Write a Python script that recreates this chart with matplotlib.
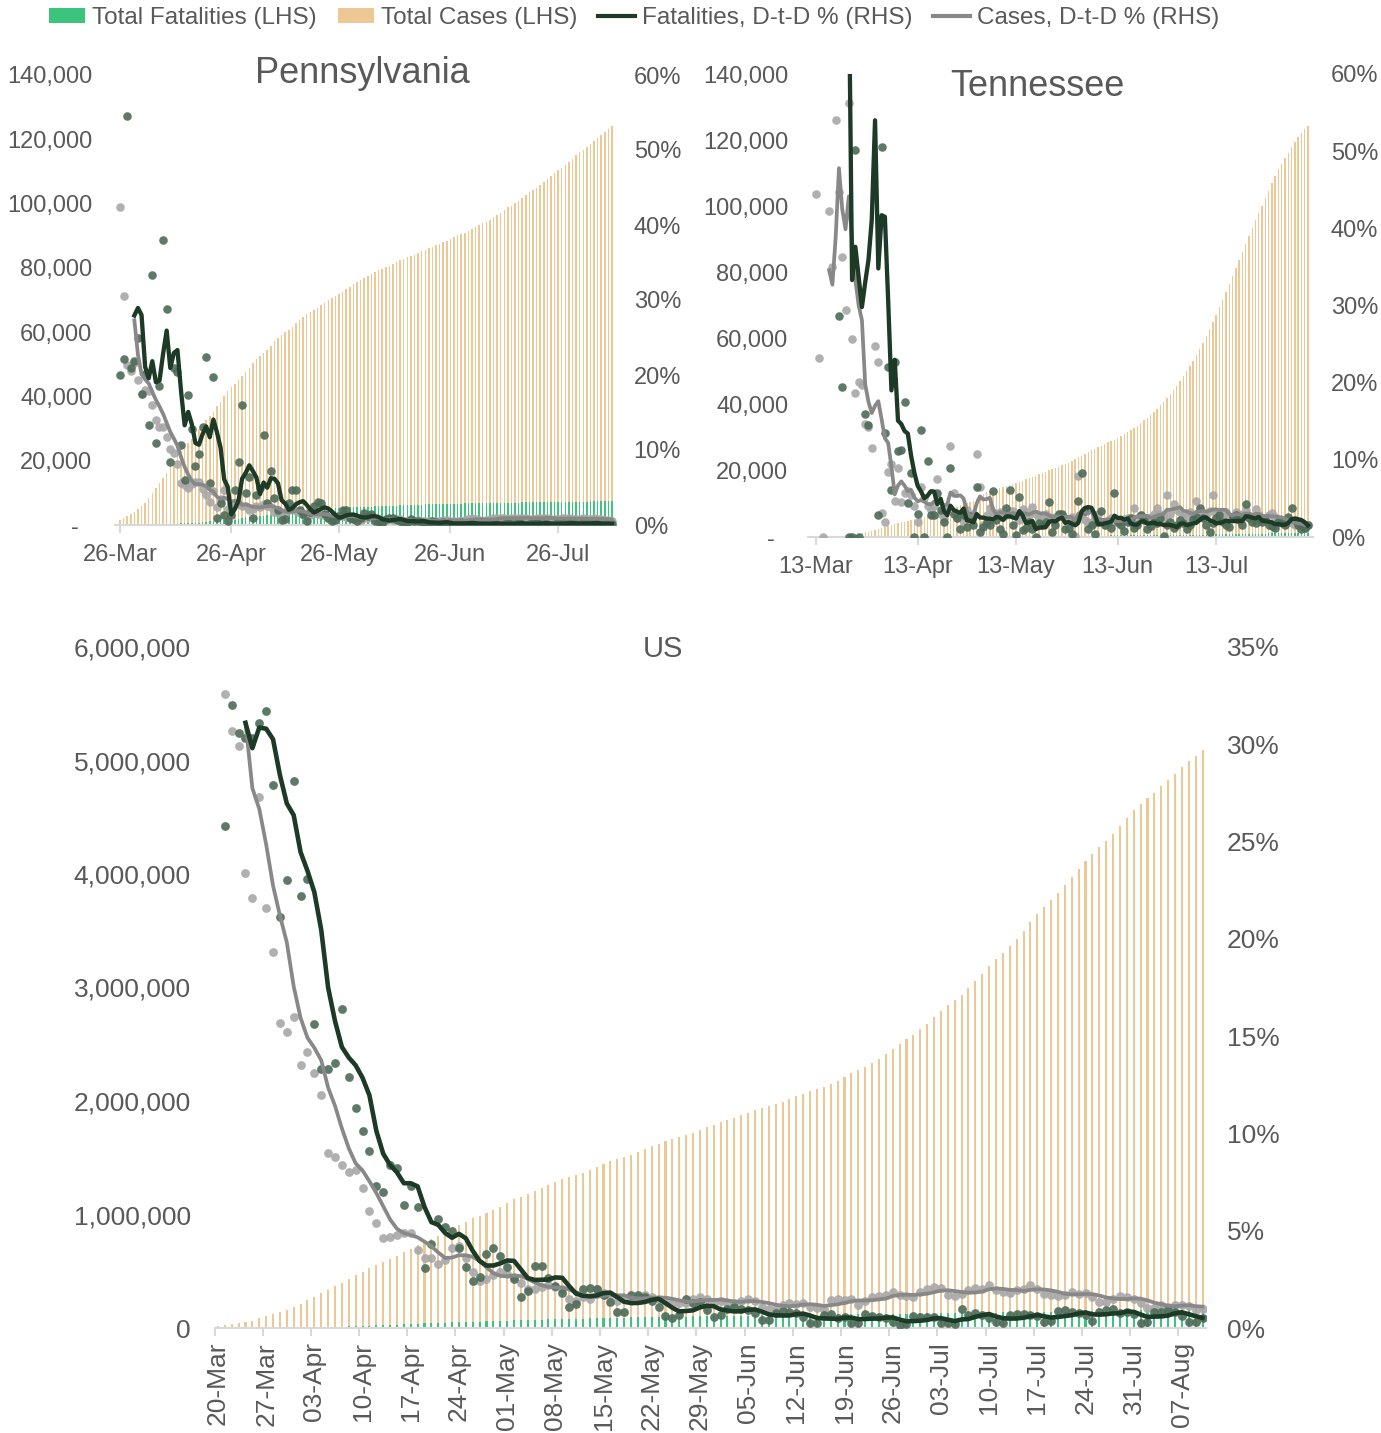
import numpy as np
import pandas as pd
import matplotlib
matplotlib.use("Agg")
import matplotlib.pyplot as plt
from matplotlib.patches import Patch
from matplotlib.lines import Line2D
from matplotlib.ticker import FuncFormatter, FixedLocator, MultipleLocator

plt.rcParams['font.family'] = ['Liberation Sans', 'DejaVu Sans']

# ---------------- US (20-Mar .. 10-Aug) ----------------
us_start = '2020-03-20'
us_cases_k = [19.1, 25.5, 33.3, 43.8, 53.7, 65.8, 83.8, 101.7, 121.5, 140.9, 161.8, 188.2,
              213.4, 243.6, 275.4, 308.8, 337.0, 366.7, 396.2, 429.1, 462.8, 496.5,
              526.4, 555.3, 580.6, 607.6, 636.4, 667.8, 699.7, 732.2, 759.1, 784.3,
              811.9, 840.4, 869.2, 905.4, 938.1, 965.8, 988.5, 1012.6, 1039.9, 1069.4,
              1103.5, 1132.5, 1158.3, 1180.6, 1204.4, 1229.3, 1257.0, 1283.9, 1309.5, 1329.3,
              1347.9, 1369.4, 1390.4, 1417.8, 1442.8, 1467.8, 1486.8, 1508.3, 1528.6, 1551.8,
              1577.1, 1600.9, 1622.6, 1643.2, 1662.3, 1681.2, 1699.9, 1721.8, 1747.1, 1770.2,
              1790.2,
              1811.3, 1831.8, 1851.5, 1872.7, 1897.4, 1920.0, 1938.8, 1956.4, 1974.1, 1995.0,
              2018, 2042, 2066, 2085, 2104, 2127, 2152, 2179, 2210, 2243,
              2269, 2300, 2336, 2374, 2414, 2459, 2501, 2542, 2582, 2630,
              2682, 2739, 2796, 2842, 2888, 2938, 2996, 3058, 3118, 3186,
              3247, 3307, 3366, 3431, 3499, 3576, 3647, 3711, 3773, 3834,
              3899, 3971, 4040, 4113, 4179, 4234, 4290, 4353, 4425, 4495, 4563,
              4621, 4667, 4714, 4771, 4824, 4883, 4941, 4998, 5044, 5094]
us_deaths_k = [0.24, 0.31, 0.42, 0.55, 0.71, 0.94, 1.21, 1.58, 2.03, 2.47, 2.98, 3.87,
               4.76, 5.93, 7.09, 8.41, 9.62, 10.94, 12.91, 14.8, 16.7, 18.7,
               20.6, 22.1, 23.6, 25.8, 28.3, 32.9, 36.8, 38.7, 40.7, 42.5,
               45.0, 47.7, 49.8, 52.0, 53.9, 55.1, 56.5, 58.8, 61.3, 63.4,
               65.3, 67.0, 68.2, 69.5, 71.9, 74.4, 76.4, 78.1, 79.6, 80.4,
               81.5, 83.0, 84.8, 86.5, 88.1, 89.3, 90.2, 91.2, 92.7, 94.2,
               95.5, 96.8, 97.8, 98.4, 99.0, 99.7, 101.2, 102.4, 103.6, 104.6, 105.3,
               106.1, 107.2, 108.2, 109.2, 110.1, 110.8, 111.2, 111.9, 113.0, 113.9,
               114.8, 115.6, 116.4, 116.8, 117.2, 118.0, 118.8, 119.5, 120.2, 120.8,
               121.1, 121.5, 122.3, 123.0, 125.4, 126.0, 126.6, 126.9, 127.3, 128.6,
               129.3, 130.0, 130.7, 130.9, 131.2, 131.6, 132.6, 133.5, 134.4, 135.3,
               136.1, 136.6, 137.0, 137.9, 138.9, 139.8, 140.8, 141.7, 142.1, 142.6,
               143.7, 144.9, 146.0, 147.2, 148.3, 148.8, 149.4, 150.8, 152.3, 153.6, 155.0,
               156.1, 156.7, 157.2, 158.5, 159.9, 161.1, 162.5, 163.5, 164.0, 164.6]
us_case_pct = [39.0, 32.6, 30.7, 29.9, 23.4, 22.1, 27.3, 21.6, 19.3, 15.7,
               15.2, 16.0, 13.5, 14.2, 13.1, 12.0, 9.0, 8.8, 8.4, 8.0,
               8.1, 7.2, 6.0, 5.4, 4.6, 4.7, 4.8, 4.9, 4.9, 4.0,
               3.6, 3.6, 3.3, 3.5, 4.1, 4.2, 3.6, 2.9, 2.4, 2.5,
               2.7, 2.9, 2.8, 2.6, 2.3, 2.0, 2.0, 2.1, 2.2, 2.1,
               2.0, 1.5, 1.4, 1.6, 1.5, 2.0, 1.8, 1.7, 1.4, 1.5,
               1.4, 1.6, 1.7, 1.6, 1.5, 1.4, 1.3, 1.3, 1.3, 1.5,
               1.6, 1.5, 1.3, 1.4, 1.3, 1.3, 1.4, 1.5, 1.4, 1.1,
               1.0, 1.0, 1.2, 1.3, 1.25, 1.27, 1.1, 1.05, 1.0, 1.44,
               1.5, 1.45, 1.5, 1.2, 1.4, 1.6, 1.65, 1.7, 1.85, 1.7,
               1.65, 1.6, 1.85, 2.0, 2.1, 2.05, 1.7, 1.65, 1.75, 1.95,
               2.05, 2.0, 2.2, 1.95, 1.85, 1.8, 1.95, 2.0, 2.2, 2.0,
               1.75, 1.7, 1.65, 1.7, 1.85, 1.75, 1.8, 1.6, 1.35, 1.35,
               1.5, 1.65, 1.6, 1.5, 1.3, 1.05, 1.05, 1.2, 1.1, 1.2,
               1.2, 1.15, 0.95, 1.0]
us_death_pct = [36.8, 25.8, 32.0, 30.6, 30.3, 30.3, 31.1, 31.7, 27.9, 21.1,
                23.0, 28.1, 22.2, 23.1, 15.6, 13.3, 13.3, 13.6, 16.4, 12.9,
                11.3, 10.1, 9.1, 7.3, 7.0, 8.4, 8.2, 6.3, 7.3, 6.2,
                3.1, 4.3, 5.6, 5.2, 5.0, 4.1, 3.15, 2.4, 2.6, 3.8,
                4.1, 3.7, 3.15, 2.5, 1.6, 1.9, 3.2, 3.2, 2.55, 2.15,
                1.8, 1.1, 1.23, 2.0, 2.04, 2.0, 1.7, 1.35, 0.84, 0.84,
                1.7, 1.7, 1.6, 1.4, 1.1, 0.6, 0.5, 0.67, 1.5, 1.27,
                1.35, 0.93, 0.55, 0.67, 1.0, 1.1, 1.0, 0.9, 0.79, 0.41,
                0.41, 0.75, 0.85, 0.8, 0.75, 0.55, 0.24, 0.24, 0.67, 0.7,
                0.5, 0.55, 0.26, 0.26, 0.72, 0.63, 0.55, 0.5, 0.33, 0.15,
                0.2, 0.6, 0.58, 0.55, 0.55, 0.24, 0.24, 0.2, 0.96, 0.67,
                0.79, 0.67, 0.5, 0.33, 0.24, 0.67, 0.7, 0.7, 0.67, 0.6,
                0.33, 0.38, 0.85, 0.9, 0.84, 0.75, 0.67, 0.34, 0.84, 0.93,
                0.96, 0.75, 0.8, 0.7, 0.26, 0.33, 0.84, 0.84, 0.93, 0.84,
                0.6, 0.33, 0.33, 0.5]

# ---------------- Pennsylvania (26-Mar .. 10-Aug) ----------------
pa_start = '2020-03-26'
pa_cases_k = [1.7, 2.2, 2.8, 3.4, 4.1, 4.9,
              5.8, 7.0, 8.4, 10.0, 11.5, 13.1, 14.6, 16.3, 18.3, 20.0,
              21.7, 22.9, 24.3, 25.5, 26.8, 28.5, 29.8, 31.5, 32.8, 33.9,
              35.3, 36.9, 38.4, 40.2, 41.8, 42.9, 43.8, 45.0, 46.3, 47.6,
              49.0, 50.5, 51.7, 52.7, 53.5, 54.4, 55.6, 57.1, 58.3, 59.2,
              59.9, 60.7, 61.7, 62.9, 63.8, 64.8, 65.6, 66.2, 66.8, 67.5,
              68.4, 69.2, 70.0, 70.7, 71.3, 71.8, 72.5, 73.3, 74.2, 75.0, 75.7,
              76.2, 76.8, 77.4, 78.0, 78.7, 79.3, 79.8, 80.2, 80.7, 81.2,
              81.8, 82.4, 82.9, 83.3, 83.7, 84.1, 84.6, 85.1, 85.6, 86.1,
              86.6, 87.0, 87.4, 87.9, 88.5, 89.1, 89.6, 90.1, 90.5, 91.0,
              91.6, 92.2, 92.8, 93.4, 93.9, 94.4, 95.0, 95.7, 96.4, 97.2,
              98.0, 98.8, 99.4, 100.1, 100.9, 101.7, 102.6, 103.5, 104.3, 105.0,
              105.8, 106.7, 107.6, 108.6, 109.5, 110.3, 111.1, 112.0, 113.0, 114.0, 115.0,
              115.9, 116.7, 117.5, 118.4, 119.4, 120.4, 121.4, 122.4, 123.2, 124.0]
pa_deaths_k = [0.016, 0.022, 0.034, 0.038, 0.049, 0.063,
               0.074, 0.09, 0.1, 0.12, 0.14, 0.16, 0.2, 0.24, 0.3, 0.34,
               0.42, 0.49, 0.52, 0.58, 0.65, 0.71, 0.76, 0.84, 1.0, 1.2,
               1.35, 1.42, 1.5, 1.56, 1.6, 1.62, 1.7, 1.72, 2.2, 2.35,
               2.45, 2.6, 2.65, 2.7, 2.85, 3.1, 3.2, 3.4, 3.6, 3.7,
               3.7, 3.8, 3.9, 4.2, 4.3, 4.4, 4.5, 4.5, 4.6, 4.7,
               4.8, 4.9, 5.0, 5.1, 5.15, 5.2, 5.3, 5.4, 5.45, 5.5, 5.55,
               5.57, 5.6, 5.65, 5.7, 5.8, 5.85, 5.9, 5.92, 5.95, 6.0,
               6.05, 6.1, 6.15, 6.2, 6.22, 6.25, 6.3, 6.35, 6.4, 6.42,
               6.45, 6.46, 6.5, 6.55, 6.58, 6.6, 6.62, 6.63, 6.65, 6.7,
               6.72, 6.75, 6.77, 6.78, 6.8, 6.82, 6.85, 6.88, 6.9, 6.91,
               6.93, 6.95, 6.96, 6.98, 7.0, 7.02, 7.03, 7.05, 7.06, 7.07,
               7.08, 7.1, 7.12, 7.14, 7.15, 7.17, 7.18, 7.2, 7.22, 7.24, 7.26,
               7.28, 7.29, 7.3, 7.32, 7.34, 7.36, 7.38, 7.4, 7.41, 7.42]
pa_case_pct = [42.4, 30.6, 21.3, 20.6, 21.6, 19.4, 17.5, 18.0, 17.9, 16.0,
               14.0, 13.1, 13.1, 11.8, 10.1, 9.6, 8.2, 5.6, 5.3, 4.9,
               5.5, 5.8, 5.8, 4.8, 4.0, 3.1, 4.5, 2.4, 3.5, 4.7,
               2.2, 2.8, 3.0, 2.8, 2.6, 2.5, 2.0, 2.2, 2.6, 2.4,
               2.8, 2.6, 2.4, 1.8, 1.6, 1.5, 1.7, 2.0, 2.2, 1.9,
               1.6, 1.3, 1.2, 1.4, 1.6, 1.5, 1.5, 1.2, 1.0, 1.0,
               1.1, 1.3, 1.2, 1.1, 1.2, 1.0, 0.8, 0.7, 0.9, 1.0,
               1.1, 0.9, 0.8, 0.6, 0.7, 0.8, 0.7, 0.8, 0.8, 0.6,
               0.5, 0.5, 0.6, 0.7, 0.6, 0.6, 0.5, 0.5, 0.6, 0.6,
               0.7, 0.7, 0.6, 0.6, 0.5, 0.6, 0.7, 0.8, 0.9, 0.8,
               0.7, 0.6, 0.7, 0.8, 0.9, 1.0, 1.0, 0.9, 0.8, 0.9,
               1.0, 0.9, 1.0, 1.0, 0.8, 0.8, 1.0, 1.0, 1.0, 0.9,
               0.8, 0.8, 0.8, 0.9, 0.9, 0.9, 0.8, 0.8, 0.8, 0.9,
               0.8, 0.8, 0.9, 0.8, 0.8, 0.7, 0.7, 0.6]
pa_death_pct = [20.0, 22.2, 54.6, 21.0, 21.9, 25.0, 17.5, 20.1, 13.3, 33.3,
                11.0, 18.5, 38.0, 28.8, 8.4, 21.0, 20.4, 10.7, 6.0, 17.3,
                12.8, 7.9, 9.5, 13.1, 22.4, 5.6, 19.7, 1.0, 2.9, 1.3,
                0.5, 1.3, 4.7, 8.4, 16.0, 4.3, 6.4, 0.9, 4.0, 5.0,
                12.0, 3.0, 7.2, 3.6, 2.0, 0.7, 0.8, 3.0, 4.7, 4.7,
                2.0, 1.5, 0.5, 1.8, 2.5, 3.1, 2.9, 1.5, 1.0, 0.5,
                0.7, 1.2, 2.0, 2.0, 1.0, 0.8, 0.5, 1.0, 1.6, 1.2,
                1.5, 0.6, 0.4, 0.2, 0.8, 1.0, 0.9, 0.7, 0.6, 0.2,
                0.3, 0.8, 0.6, 0.5, 0.4, 0.2, 0.1, 0.5, 0.4, 0.3,
                0.4, 0.3, 0.1, 0.0, 0.3, 0.4, 0.3, 0.2, 0.2, 0.1,
                0.0, 0.3, 0.2, 0.2, 0.3, 0.1, 0.0, 0.1, 0.3, 0.2,
                0.2, 0.3, 0.2, 0.0, 0.1, 0.3, 0.3, 0.2, 0.2, 0.2,
                0.0, 0.1, 0.3, 0.3, 0.2, 0.3, 0.2, 0.1, 0.1, 0.3,
                0.3, 0.2, 0.3, 0.2, 0.0, 0.1, 0.3, 0.2]

# ---------------- Tennessee (13-Mar .. 10-Aug) ----------------
tn_start = '2020-03-13'
tn_cases_k = [0.03, 0.04, 0.04, 0.05, 0.07, 0.1, 0.15, 0.23, 0.37, 0.5,
              0.6, 0.67, 0.78, 0.96, 1.2, 1.4, 1.5, 1.7, 2.0,
              2.3, 2.7, 3.0, 3.3, 3.6, 3.8, 4.1, 4.4, 4.6, 4.9,
              5.1, 5.3, 5.6, 5.8, 6.1, 6.3, 6.6, 6.9, 7.1, 7.3,
              7.6, 7.9, 8.3, 8.9, 9.2, 9.7, 10.0, 10.4, 10.6, 11.0,
              11.4, 12.0, 13.0, 13.6, 13.9, 14.1, 14.4, 14.8, 15.1, 15.5,
              15.8, 16.1, 16.4, 16.7, 17.0, 17.4, 17.8, 18.0, 18.4, 18.9,
              19.3, 19.8, 20.2, 20.6, 20.9, 21.3, 21.7, 22.1, 22.5, 23.0, 23.6,
              24.1, 24.5, 25.0, 25.7, 26.3, 26.7, 27.1, 27.6, 28.1, 28.6,
              29.0, 29.4, 30.0, 30.6, 31.2, 31.8, 32.4, 33.0, 33.7, 34.4,
              35.3, 36.1, 36.9, 37.9, 38.8, 39.8, 40.8, 42.0, 43.1, 44.3,
              45.7, 47.2, 48.7, 50.2, 51.7, 53.3, 55.0, 56.8, 58.8, 60.8,
              63.0, 65.1, 67.2, 69.4, 71.7, 74.1, 76.5, 79.0, 81.4, 83.7,
              86.1, 88.5, 91.0, 93.5, 95.9, 98.1, 100.2, 102.4, 104.6, 106.9, 109.2,
              111.2, 112.9, 114.5, 116.2, 117.8, 119.4, 120.9, 122.3, 123.3, 124.2]
tn_deaths_k = [0, 0, 0, 0, 0, 0, 0, 0.001, 0.001, 0.002,
               0.002, 0.003, 0.003, 0.004, 0.006, 0.007, 0.009, 0.013, 0.023,
               0.032, 0.037, 0.043, 0.051, 0.061, 0.065, 0.067, 0.08, 0.094, 0.098,
               0.101, 0.106, 0.109, 0.117, 0.124, 0.13, 0.138, 0.142, 0.148, 0.154,
               0.157, 0.166, 0.17, 0.178, 0.184, 0.188, 0.189, 0.193, 0.195, 0.2,
               0.209, 0.216, 0.218, 0.226, 0.231, 0.241, 0.247, 0.25, 0.254, 0.258,
               0.259, 0.264, 0.272, 0.279, 0.285, 0.29, 0.293, 0.295, 0.302, 0.31,
               0.315, 0.33, 0.337, 0.34, 0.347, 0.35, 0.36, 0.364, 0.37, 0.375, 0.38,
               0.384, 0.389, 0.395, 0.409, 0.414, 0.419, 0.421, 0.427, 0.435, 0.445,
               0.455, 0.465, 0.47, 0.48, 0.485, 0.49, 0.505, 0.515, 0.525, 0.535,
               0.545, 0.55, 0.56, 0.57, 0.585, 0.6, 0.605, 0.61, 0.62, 0.63,
               0.64, 0.65, 0.66, 0.665, 0.67, 0.68, 0.69, 0.7, 0.72, 0.73,
               0.75, 0.76, 0.77, 0.79, 0.8, 0.82, 0.83, 0.85, 0.86, 0.88,
               0.89, 0.91, 0.94, 0.96, 0.98, 0.99, 1.01, 1.03, 1.06, 1.08, 1.1,
               1.12, 1.13, 1.15, 1.17, 1.19, 1.2, 1.22, 1.24, 1.25, 1.27]
tn_case_pct = [44.4, 23.2, 0.0, 63.0, 42.3, 35.0, 54.0, 44.7, 36.3, 29.4,
               56.3, 25.7, 18.7, 20.1, 19.7, 14.7, 14.3, 11.5, 24.8, 22.7,
               3.1, 1.9, 8.4, 9.5, 4.7, 8.9, 4.5, 5.7, 6.0, 5.4,
               4.0, 2.0, 6.5, 5.0, 4.0, 3.5, 4.0, 7.5, 3.0, 2.5,
               4.0, 11.8, 5.7, 2.5, 3.0, 2.0, 3.5, 2.5, 3.0, 10.8,
               6.5, 1.5, 2.8, 3.8, 3.2, 3.0, 3.3, 2.6, 2.8, 3.4,
               3.4, 2.8, 2.2, 3.6, 3.2, 2.8, 3.9, 3.0, 2.6, 2.8,
               3.0, 2.6, 2.2, 2.6, 3.0, 2.8, 2.4, 2.2, 2.6, 0.1,
               7.9, 3.0, 2.2, 2.0, 1.8, 2.5, 3.0, 2.0, 1.6, 2.2,
               2.5, 2.0, 1.8, 2.0, 2.3, 2.5, 2.0, 3.8, 2.5, 2.8,
               2.4, 2.2, 2.6, 3.0, 3.8, 3.0, 2.5, 5.4, 3.0, 4.3,
               3.5, 3.2, 3.0, 2.6, 3.3, 2.8, 4.7, 3.2, 3.0, 2.8,
               3.4, 5.4, 3.3, 2.6, 3.0, 3.2, 2.7, 2.5, 3.3, 3.0,
               2.9, 3.5, 2.6, 2.4, 3.6, 2.8, 2.2, 2.5, 2.8, 3.1,
               2.6, 2.0, 2.2, 1.9, 2.0, 1.8, 1.5, 1.7, 1.6, 1.2, 1.5]
tn_death_pct = [100, 100, 100, 100, 100, 100, 200, 28.6, 19.5, 118.4,
                0.0, 0.0, 50.1, 0.0, 98.9, 16.0, 14.5, 76.1, 64.5, 2.9,
                50.5, 13.5, 22.0, 6.1, 22.7, 11.1, 11.3, 17.5, 4.4, 8.3,
                0.0, 3.0, 13.9, 0.0, 9.8, 2.9, 2.9, 5.7, 3.5, 2.0,
                0.0, 9.0, 3.0, 2.5, 1.1, 2.85, 1.3, 2.7, 1.5, 6.5,
                0.6, 1.3, 2.0, 1.5, 6.0, 2.2, 1.0, 0.4, 3.7, 6.1,
                1.5, 0.26, 5.2, 0.9, 1.2, 2.0, 1.0, 0.0, 1.8, 1.5,
                2.0, 4.5, 0.6, 1.5, 3.0, 3.0, 1.0, 1.2, 0.4, 2.0,
                4.7, 8.3, 3.4, 1.0, 1.5, 0.4, 2.0, 3.4, 1.5, 2.0,
                1.2, 5.7, 2.0, 1.5, 0.8, 2.0, 2.5, 1.2, 1.5, 2.8,
                2.2, 1.0, 1.4, 2.0, 1.8, 2.4, 0.1, 1.5, 2.0, 1.2,
                1.6, 2.2, 1.8, 1.0, 1.5, 2.3, 2.6, 3.7, 2.5, 1.5,
                0.6, 1.8, 2.4, 2.8, 2.0, 1.6, 1.3, 2.6, 2.8, 2.2,
                1.5, 4.3, 2.5, 2.0, 1.8, 2.4, 1.9, 2.2, 1.6, 1.4,
                1.2, 2.0, 1.8, 1.5, 2.6, 3.7, 2.2, 1.5, 1.0, 1.2, 1.5]

# colours
c_cases = '#EDC894'
c_deaths = '#3CC47C'
c_dline = '#1C3A26'
c_cline = '#888888'
c_ddot = '#4E6B59'
c_cdot = '#A8A8A8'
c_text = '#595959'
c_axis = '#D9D9D9'

W, H = 1381, 1433
fig = plt.figure(figsize=(W / 100, H / 100), dpi=100)


def px_rect(x0, x1, ytop, ybot):
    return [x0 / W, 1 - ybot / H, (x1 - x0) / W, (ybot - ytop) / H]


def draw_panel(rect, start, cases_k, deaths_k, case_pct, death_pct, lmax, lstep, rmax, rstep,
               xlim, tick_idx, bar_w, fs, dot_s, lw_d, lw_c, zero_dash, rotate,
               lpad, rpad, xpad, ticks_between):
    ax = fig.add_axes(rect)
    xc = np.arange(len(cases_k))
    xd = np.arange(len(deaths_k))
    ax.bar(xc, np.array(cases_k) * 1000, width=bar_w, color=c_cases, linewidth=0, zorder=1)
    ax.bar(xd, np.array(deaths_k) * 1000, width=bar_w, color=c_deaths, linewidth=0, zorder=2)
    ax.set_xlim(*xlim)
    ax.set_ylim(0, lmax)
    ax.yaxis.set_major_locator(MultipleLocator(lstep))
    if zero_dash:
        ax.yaxis.set_major_formatter(FuncFormatter(lambda v, p: '-  ' if v == 0 else f'{v:,.0f}'))
    else:
        ax.yaxis.set_major_formatter(FuncFormatter(lambda v, p: f'{v:,.0f}'))
    for s in ['top', 'left', 'right']:
        ax.spines[s].set_visible(False)
    ax.spines['bottom'].set_color(c_axis)
    ax.spines['bottom'].set_linewidth(1.5)
    ax.tick_params(axis='y', length=0, labelsize=fs, labelcolor=c_text, pad=lpad)

    dates = pd.date_range(start, periods=len(cases_k), freq='D')
    labels = [dates[i].strftime('%d-%b') for i in tick_idx]
    ax.xaxis.set_major_locator(FixedLocator(tick_idx))
    ax.set_xticklabels(labels, rotation=90 if rotate else 0)
    if ticks_between:
        ax.tick_params(axis='x', which='major', length=0, labelsize=fs, labelcolor=c_text, pad=xpad)
        ax.xaxis.set_minor_locator(FixedLocator([i - 0.5 for i in tick_idx]))
        ax.tick_params(axis='x', which='minor', length=6, width=1.5, color=c_axis)
    else:
        ax.tick_params(axis='x', which='major', length=6, width=1.5, color=c_axis,
                       labelsize=fs, labelcolor=c_text, pad=xpad)

    ax2 = ax.twinx()
    cp = pd.Series(case_pct, dtype=float)
    dp = pd.Series(death_pct, dtype=float)
    ax2.scatter(np.arange(len(cp)), cp, s=dot_s, color=c_cdot, linewidths=0, alpha=0.9, zorder=2)
    ax2.scatter(np.arange(len(dp)), dp, s=dot_s, color=c_ddot, linewidths=0, alpha=0.9, zorder=3)
    ax2.plot(np.arange(len(cp)), cp.rolling(5).mean(), color=c_cline, lw=lw_c, zorder=4,
             solid_joinstyle='round')
    ax2.plot(np.arange(len(dp)), dp.rolling(5).mean(), color=c_dline, lw=lw_d, zorder=5,
             solid_joinstyle='round')
    ax2.set_ylim(0, rmax)
    ax2.yaxis.set_major_locator(MultipleLocator(rstep))
    ax2.yaxis.set_major_formatter(FuncFormatter(lambda v, p: f'{v:.0f}%'))
    for s in ax2.spines.values():
        s.set_visible(False)
    ax2.tick_params(axis='y', length=0, labelsize=fs, labelcolor=c_text, pad=rpad)
    return ax, ax2


# Pennsylvania
draw_panel(px_rect(114.6, 615.6, 75, 525), pa_start, pa_cases_k, pa_deaths_k, pa_case_pct,
           pa_death_pct, 140000, 20000, 60, 10, (-1.5, 138.0), [0, 31, 61, 92, 122],
           0.42, 17, 38, 3.1, 2.7, True, False, 16, 13, 8, False)
fig.text(362 / W, 1 - 83 / H, 'Pennsylvania', ha='center', va='baseline', fontsize=26, color=c_text)

# Tennessee
draw_panel(px_rect(807.8, 1312.9, 74, 537), tn_start, tn_cases_k, tn_deaths_k, tn_case_pct,
           tn_death_pct, 140000, 20000, 60, 10, (-2.5, 151.5), [0, 31, 61, 92, 122],
           0.42, 17, 38, 3.1, 2.7, True, False, 14, 13, 8, False)
fig.text(1037 / W, 1 - 96 / H, 'Tennessee', ha='center', va='baseline', fontsize=26, color=c_text)

# US
draw_panel(px_rect(214.5, 1206.0, 647, 1328), us_start, us_cases_k, us_deaths_k, us_case_pct,
           us_death_pct, 6000000, 1000000, 35, 5, (-0.5, 143.5), list(range(0, 144, 7)),
           0.3, 19, 40, 3.3, 2.7, False, True, 17, 15, 10, True)
fig.text(663 / W, 1 - 657 / H, 'US', ha='center', va='baseline', fontsize=21, color=c_text)

handles = [Patch(facecolor=c_deaths, edgecolor='none'),
           Patch(facecolor=c_cases, edgecolor='none'),
           Line2D([0], [0], color=c_dline, lw=3),
           Line2D([0], [0], color=c_cline, lw=3)]
labels = ['Total Fatalities (LHS)', 'Total Cases (LHS)',
          'Fatalities, D-t-D % (RHS)', 'Cases, D-t-D % (RHS)']
fig.legend(handles, labels, loc='center', bbox_to_anchor=(634 / W, 1 - 18 / H), ncol=4,
           frameon=False, fontsize=17.5, labelcolor=c_text, handlelength=1.5,
           handleheight=0.55, handletextpad=0.3, columnspacing=0.85)

fig.savefig('out.png', dpi=100)
